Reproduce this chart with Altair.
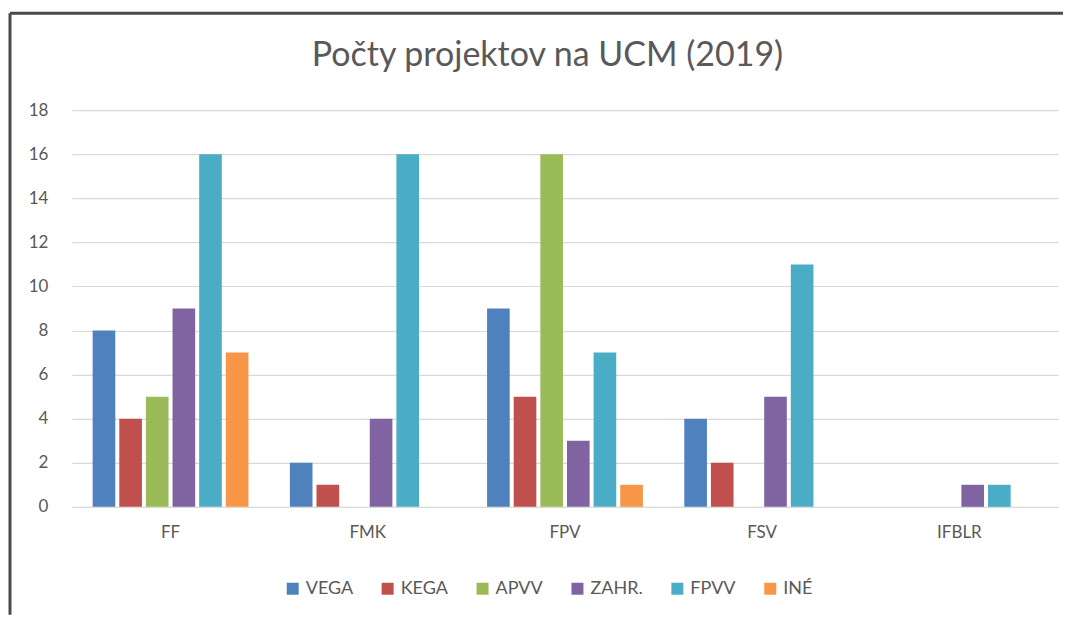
import altair as alt
import pandas as pd

categories = ["FF", "FMK", "FPV", "FSV", "IFBLR"]
series = ["VEGA", "KEGA", "APVV", "ZAHR.", "FPVV", "INÉ"]
vega = [8, 2, 9, 4, 0]
kega = [4, 1, 5, 2, 0]
apvv = [5, 0, 16, 0, 0]
zahr = [9, 4, 3, 5, 1]
fpvv = [16, 16, 7, 11, 1]
ine = [7, 0, 1, 0, 0]
y_ticks = [0, 2, 4, 6, 8, 10, 12, 14, 16, 18]
colors = ["#4F81BD", "#C0504D", "#9BBB59", "#8064A2", "#4BACC6", "#F79646"]
title_text = "Počty projektov na UCM (2019)"

values = [vega, kega, apvv, zahr, fpvv, ine]
rows = []
for s, vals in zip(series, values):
    for c, v in zip(categories, vals):
        rows.append({"fakulta": c, "typ": s, "pocet": v})
df = pd.DataFrame(rows)

FONT = "Lato"
TXT = "#595959"

bars = alt.Chart(df).mark_bar().encode(
    x=alt.X("fakulta:N", sort=categories,
            scale=alt.Scale(paddingInner=0.21, paddingOuter=0.105),
            axis=alt.Axis(title=None, labelAngle=0, domain=False, ticks=False,
                          labelPadding=18, labelFontSize=17, labelColor=TXT,
                          labelFont=FONT)),
    xOffset=alt.XOffset("typ:N", sort=series,
                        scale=alt.Scale(paddingInner=0.15)),
    y=alt.Y("pocet:Q", scale=alt.Scale(domain=[0, 18], nice=False),
            axis=alt.Axis(title=None, values=y_ticks, domain=False, ticks=False,
                          labelPadding=24, labelFontSize=17, labelColor=TXT,
                          labelFont=FONT, gridColor="#d9d9d9", gridWidth=1.2)),
    color=alt.Color("typ:N", sort=series,
                    scale=alt.Scale(domain=series, range=colors),
                    legend=alt.Legend(title=None, orient="none", direction="horizontal",
                                      legendX=212, legendY=470,
                                      symbolType="square", symbolSize=144,
                                      symbolStrokeWidth=0,
                                      labelFontSize=18, labelColor=TXT,
                                      labelFont=FONT, columnPadding=25,
                                      labelOffset=4)),
)

one = pd.DataFrame({"a": [0]})
left_border = alt.Chart(one).mark_rule(color="#4a4a4a", strokeWidth=3).encode(
    x=alt.value(-62), y=alt.value(-97), y2=alt.value(505)
)
top_border = alt.Chart(one).mark_rule(color="#4a4a4a", strokeWidth=3).encode(
    x=alt.value(-62), x2=alt.value(992), y=alt.value(-97)
)
title = alt.Chart(one).mark_text(
    text=title_text, font=FONT, fontSize=34, color=TXT,
    align="center", baseline="middle"
).encode(x=alt.value(476), y=alt.value(-54))

chart = alt.layer(bars, left_border, top_border, title).properties(
    width=987, height=397,
    padding={"left": 0, "top": 3, "right": 0, "bottom": 0},
).configure(font=FONT).configure_view(stroke=None)

chart.save("out.html", embed_options={"renderer": "svg", "actions": False})
